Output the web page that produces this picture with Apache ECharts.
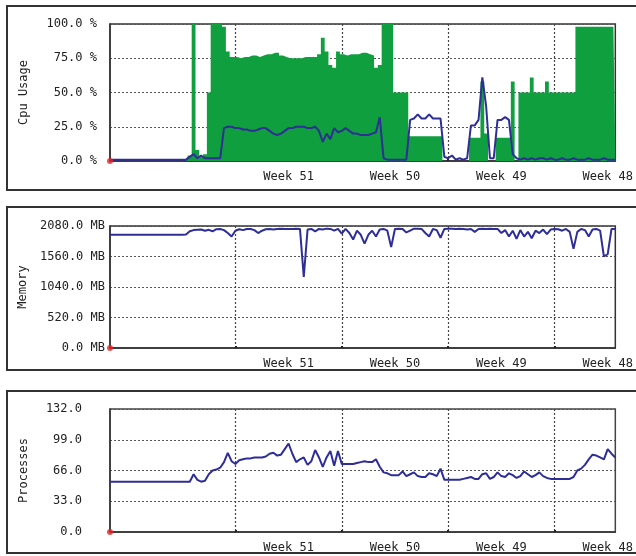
<!DOCTYPE html>
<html><head><meta charset="utf-8">
<script src="https://cdn.jsdelivr.net/npm/echarts@6/dist/echarts.min.js"></script>
<style>html,body{margin:0;padding:0;background:#fff}#c{width:636px;height:556px}</style>
</head><body><div id="c"></div><script>
// ---- data (one sample every 6 hours, x in days from left edge) ----
const sampleStepDays = 0.25;
const weekBoundaries = [8.25, 15.25, 22.25, 29.25];
const weekLabelPos = [11.75, 18.75, 25.75, 32.75];
const weekLabels = ['Week 51', 'Week 50', 'Week 49', 'Week 48'];

const cpuTotal = [
 0,0,0,0,0,0,0,0,0,0,0,0,0,0,0,0,0,0,0,0,0,
 4,100,8,3,5,50,100,100,100,98,80,76,76,75,76,76,77,77,76,77,
 78,78,79,79,77,76,75,75,75,75,76,76,76,76,78,90,80,70,68,80,
 78,77,78,78,78,79,79,78,77,68,70,100,100,100,50,50,50,50,18,18,
 18,18,18,18,18,18,18,0,0,0,0,0,0,0,17,17,17,58,20,0,
 0,17,17,17,17,58,0,50,50,50,61,50,50,50,58,50,50,50,50,50,
 50,50,98,98,98,98,98,98,98,98,98,98,98
];
const cpuUser = [
 1,1,1,1,1,1,1,1,1,1,1,1,1,1,1,1,1,1,1,1,1,
 3,5,2,4,2,2,2,2,2,24,25,25,24,24,23,23,22,22,23,24,
 24,22,20,19,20,22,24,24,25,25,25,24,24,25,22,14,20,16,24,21,
 22,24,22,20,20,19,19,19,20,21,32,2,1,1,1,1,1,1,30,31,
 34,31,31,34,31,31,31,3,2,4,1,2,1,2,26,26,30,61,40,2,
 2,30,30,32,30,5,2,1,2,1,2,1,2,2,1,2,1,1,2,1,
 1,2,1,1,1,2,1,1,1,2,1,1,1
];
const memoryMB = [
 1930,1930,1930,1930,1930,1930,1930,1930,1930,1930,1930,1930,1930,1930,1930,1930,1930,1930,1930,1930,1935,
 1990,2010,2015,2020,2000,2015,1990,2025,2030,2010,1960,1900,2000,2025,2010,2030,2030,2010,1960,2000,
 2025,2030,2020,2030,2035,2030,2030,2030,2035,2030,1210,2020,2030,1990,2030,2020,2035,2030,2000,2030,
 1950,2030,1960,1850,2000,1930,1780,1930,2000,1900,2020,2030,2000,1720,2030,2035,2030,1970,2000,2035,
 2035,2030,1960,1900,2030,2010,1880,2030,2035,2035,2030,2035,2030,2020,2030,1980,2030,2035,2030,2035,
 2030,2030,1960,2010,1900,2000,1860,2010,1900,1980,1870,2000,1960,2020,1940,2020,2030,2025,2000,2030,
 1980,1690,1980,2030,2010,1900,2020,2030,2000,1560,1600,2030,2030
];
const processes = [
 54,54,54,54,54,54,54,54,54,54,54,54,54,54,54,54,54,54,54,54,54,
 54,62,56,54,55,62,66,67,69,75,85,76,73,77,78,79,79,80,80,80,
 81,84,85,82,83,89,95,84,75,78,80,72,76,88,80,70,80,87,71,87,
 73,73,73,73,74,75,76,75,75,78,70,64,63,61,61,61,65,60,62,64,
 60,59,59,63,62,60,68,56,56,56,56,56,57,58,59,57,57,62,63,57,
 59,64,60,59,63,61,58,60,65,62,59,61,64,60,58,57,57,57,57,57,
 57,59,66,68,72,78,83,82,80,78,89,84,80
];
const cpuTicks = {max: 100, interval: 25, unit: ' %'};
const memTicks = {max: 2080, interval: 520, unit: ' MB'};
const procTicks = {max: 132, interval: 33, unit: ''};
const xMax = 33.25;

// ---- build ----
const pairs = arr => arr.map((v, i) => [i * sampleStepDays, v]);
const FONT = 'DejaVu Sans Mono';
const gridLine = {show: true, lineStyle: {type: [2, 2], color: '#555', width: 1}};

function xAxisFor(g) {
  return {
    type: 'value', gridIndex: g, min: 0, max: xMax,
    axisLine: {show: true, onZero: false, lineStyle: {color: '#333', width: 1.5}},
    axisTick: {show: true, customValues: weekBoundaries, length: 2, inside: true, lineStyle: {color: '#222', width: 2}},
    splitLine: {show: true, lineStyle: {type: [2, 2], color: '#444', width: 1.2}},
    axisLabel: {
      customValues: weekLabelPos, margin: 10, fontFamily: FONT, fontSize: 12, color: '#222',
      formatter: v => {
        const k = weekLabelPos.findIndex(p => Math.abs(p - v) < 0.01);
        return k >= 0 ? weekLabels[k] : '';
      }
    }
  };
}
function yAxisFor(g, t, name, margin) {
  return {
    type: 'value', gridIndex: g, min: 0, max: t.max, interval: t.interval,
    name: name, nameLocation: 'middle', nameGap: 80,
    nameTextStyle: {fontFamily: FONT, fontSize: 12, color: '#222'},
    axisLine: {show: true, lineStyle: {color: '#333', width: 1.5}},
    axisTick: {show: false},
    splitLine: gridLine,
    axisLabel: {margin: margin, fontFamily: FONT, fontSize: 12, color: '#222',
      formatter: v => v.toFixed(1) + t.unit}
  };
}
const originDot = g => ({
  type: 'scatter', xAxisIndex: g, yAxisIndex: g, data: [[0, 0]], symbolSize: 6,
  itemStyle: {color: '#e3262b'}, z: 10, clip: false, silent: true
});
const lineColor = '#2e2e96';

const option = {
  animation: false,
  backgroundColor: '#fff',
  graphic: [
    {type: 'rect', shape: {x: 7, y: 6, width: 650, height: 184}, style: {fill: 'none', stroke: '#333', lineWidth: 2}},
    {type: 'rect', shape: {x: 7, y: 207, width: 650, height: 163}, style: {fill: 'none', stroke: '#333', lineWidth: 2}},
    {type: 'rect', shape: {x: 7, y: 391, width: 650, height: 162}, style: {fill: 'none', stroke: '#333', lineWidth: 2}}
  ],
  grid: [
    {left: 110, right: 18, top: 24, height: 137, show: true, borderColor: '#333', borderWidth: 1.5, backgroundColor: '#fff'},
    {left: 110, right: 18, top: 226, height: 122, show: true, borderColor: '#333', borderWidth: 1.5, backgroundColor: '#fff'},
    {left: 110, right: 18, top: 409, height: 123, show: true, borderColor: '#444', borderWidth: 1.5, backgroundColor: '#fff'}
  ],
  xAxis: [xAxisFor(0), xAxisFor(1), xAxisFor(2)],
  yAxis: [
    yAxisFor(0, cpuTicks, 'Cpu Usage', 13),
    yAxisFor(1, memTicks, 'Memory', 5),
    yAxisFor(2, procTicks, 'Processes', 28)
  ],
  series: [
    {type: 'line', xAxisIndex: 0, yAxisIndex: 0, data: pairs(cpuTotal), step: 'middle',
      symbol: 'none', lineStyle: {width: 0}, areaStyle: {color: '#0f9f3f', opacity: 1}, z: 2},
    {type: 'line', xAxisIndex: 0, yAxisIndex: 0, data: pairs(cpuUser),
      symbol: 'none', lineStyle: {width: 2, color: lineColor}, z: 3},
    {type: 'line', xAxisIndex: 1, yAxisIndex: 1, data: pairs(memoryMB),
      symbol: 'none', lineStyle: {width: 2, color: lineColor}, z: 3},
    {type: 'line', xAxisIndex: 2, yAxisIndex: 2, data: pairs(processes),
      symbol: 'none', lineStyle: {width: 2, color: lineColor}, z: 3},
    originDot(0), originDot(1), originDot(2)
  ]
};
const chart = echarts.init(document.getElementById('c'));
chart.setOption(option);
</script></body></html>
